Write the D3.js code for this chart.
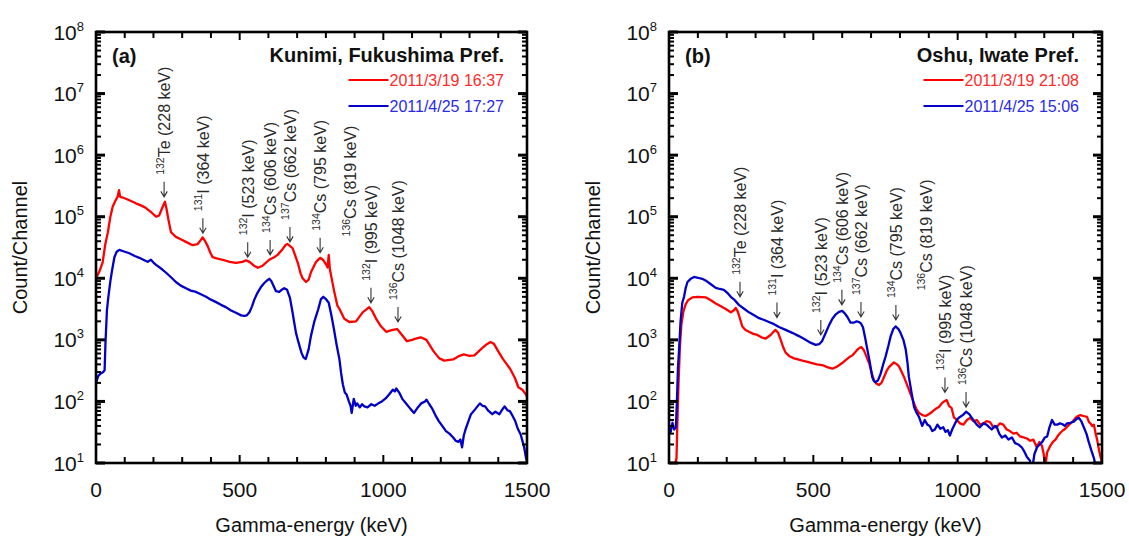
<!DOCTYPE html>
<html>
<head>
<meta charset="utf-8">
<script src="https://cdn.jsdelivr.net/npm/d3@7"></script>
<style>
  body { margin: 0; background: #fff; }
  text { font-family: "Liberation Sans", Arial, sans-serif; }
</style>
</head>
<body>
<svg id="chart" width="1129" height="536"></svg>
<script>
// Gamma spectra, values: [energy keV, count/channel]
const kunimiMar = [
  [0, 1.0e4], [12, 1.3e4], [23, 1.8e4], [32, 3.5e4], [41, 5.5e4], [50, 1.0e5], [58, 1.45e5],
  [67, 1.8e5], [75, 2.1e5], [80, 2.7e5], [84, 2.1e5], [93, 2.05e5], [110, 1.9e5], [139, 1.65e5],
  [160, 1.5e5], [174, 1.38e5], [195, 1.15e5], [209, 1.0e5], [220, 1.05e5], [232, 1.45e5],
  [240, 1.75e5], [246, 1.3e5], [252, 9.0e4], [261, 5.6e4], [278, 4.7e4], [295, 4.3e4],
  [313, 3.9e4], [336, 3.45e4], [354, 3.6e4], [365, 4.2e4], [371, 4.6e4], [380, 4.0e4],
  [389, 3.3e4], [398, 2.6e4], [406, 2.2e4], [420, 2.1e4], [441, 2.0e4], [465, 1.85e4],
  [487, 1.78e4], [510, 1.85e4], [522, 1.95e4], [534, 1.85e4], [550, 1.6e4], [563, 1.48e4],
  [580, 1.6e4], [603, 2.0e4], [620, 2.2e4], [632, 2.4e4], [650, 3.0e4], [660, 3.5e4],
  [667, 3.6e4], [684, 3.1e4], [702, 1.8e4], [712, 1.2e4], [719, 1.0e4], [731, 8.7e3],
  [740, 9.5e3], [748, 1.25e4], [766, 1.85e4], [780, 2.15e4], [790, 2.0e4], [800, 1.7e4],
  [806, 1.5e4], [810, 2.4e4], [814, 1.4e4], [822, 9.0e3], [830, 5.8e3], [840, 3.6e3],
  [847, 3.2e3], [864, 2.2e3], [882, 1.95e3], [905, 2.0e3], [928, 2.8e3], [940, 3.1e3],
  [951, 3.4e3], [962, 2.9e3], [975, 2.2e3], [990, 1.7e3], [1010, 1.35e3], [1032, 1.45e3],
  [1048, 1.5e3], [1065, 1.2e3], [1082, 9.5e2], [1100, 1.0e3], [1113, 1.05e3], [1130, 1.1e3],
  [1150, 1.0e3], [1175, 6.5e2], [1195, 5.0e2], [1212, 4.6e2], [1243, 4.8e2], [1265, 5.5e2],
  [1280, 5.8e2], [1300, 5.5e2], [1317, 5.6e2], [1342, 7.2e2], [1360, 8.5e2], [1373, 9.2e2],
  [1385, 8.6e2], [1400, 6.5e2], [1416, 4.9e2], [1441, 3.4e2], [1458, 2.4e2], [1470, 1.7e2],
  [1484, 1.55e2], [1496, 1.3e2], [1500, 1.2e2]
];

const kunimiApr = [
  [0, 2.0e2], [8, 2.6e2], [15, 2.8e2], [25, 3.0e2], [30, 3.2e2], [33, 9.0e2], [38, 3.0e3],
  [43, 5.0e3], [50, 9.0e3], [56, 1.35e4], [64, 2.2e4], [72, 2.7e4], [81, 2.9e4], [95, 2.75e4],
  [116, 2.55e4], [135, 2.3e4], [151, 2.15e4], [170, 1.95e4], [180, 1.85e4], [191, 2.0e4],
  [200, 1.8e4], [209, 1.65e4], [230, 1.4e4], [244, 1.23e4], [260, 1.05e4], [278, 8.7e3],
  [295, 7.6e3], [313, 6.9e3], [330, 6.3e3], [348, 6.0e3], [365, 5.5e3], [383, 5.0e3],
  [400, 4.5e3], [418, 4.1e3], [435, 3.7e3], [452, 3.4e3], [470, 3.0e3], [487, 2.75e3],
  [505, 2.5e3], [516, 2.45e3], [525, 2.5e3], [534, 2.8e3], [543, 3.5e3], [551, 4.5e3],
  [562, 5.8e3], [574, 7.2e3], [585, 8.3e3], [595, 9.2e3], [603, 9.8e3], [610, 9.0e3],
  [618, 7.5e3], [626, 6.2e3], [638, 6.0e3], [648, 6.6e3], [655, 6.9e3], [665, 6.5e3],
  [675, 4.8e3], [684, 2.8e3], [690, 1.9e3], [696, 1.3e3], [705, 9.0e2], [715, 6.2e2],
  [722, 5.2e2], [730, 4.9e2], [740, 7.0e2], [748, 1.15e3], [760, 2.0e3], [773, 3.1e3],
  [783, 4.6e3], [791, 5.0e3], [800, 4.6e3], [810, 4.0e3], [820, 2.4e3], [828, 1.5e3],
  [838, 8.0e2], [847, 4.9e2], [853, 2.9e2], [859, 1.9e2], [866, 1.4e2], [872, 1.3e2],
  [880, 1.0e2], [886, 8.5e1], [890, 6.5e1], [897, 1.1e2], [904, 8.5e1], [909, 9.3e1],
  [918, 8.0e1], [926, 9.0e1], [934, 8.3e1], [945, 8.0e1], [958, 9.0e1], [970, 8.5e1],
  [983, 9.3e1], [995, 1.0e2], [1008, 1.12e2], [1020, 1.3e2], [1033, 1.55e2], [1040, 1.45e2],
  [1045, 1.62e2], [1057, 1.35e2], [1066, 1.1e2], [1082, 8.9e1], [1095, 7.5e1], [1107, 6.5e1],
  [1120, 8.0e1], [1132, 9.3e1], [1145, 1.0e2], [1150, 1.07e2], [1160, 9.0e1], [1169, 7.8e1],
  [1181, 6.0e1], [1193, 4.8e1], [1205, 4.0e1], [1218, 3.3e1], [1230, 3.0e1], [1243, 2.6e1],
  [1252, 2.3e1], [1261, 2.2e1], [1268, 2.4e1], [1274, 1.8e1], [1280, 2.8e1], [1286, 3.5e1],
  [1295, 4.6e1], [1305, 6.2e1], [1320, 7.5e1], [1336, 9.3e1], [1345, 8.5e1], [1354, 8.3e1],
  [1366, 7.0e1], [1379, 6.2e1], [1390, 6.8e1], [1404, 6.2e1], [1415, 7.5e1], [1422, 8.3e1],
  [1432, 7.2e1], [1441, 6.9e1], [1450, 5.8e1], [1459, 4.8e1], [1468, 3.6e1], [1478, 2.9e1],
  [1485, 2.2e1], [1490, 1.8e1], [1496, 1.25e1], [1500, 1.05e1]
];

const oshuMar = [
  [0, 9], [20, 9], [26, 1.2e1], [29, 4.5e1], [33, 2.0e2], [38, 8.0e2], [43, 1.8e3], [50, 2.9e3],
  [58, 3.8e3], [66, 4.4e3], [81, 4.9e3], [100, 5.0e3], [127, 4.9e3], [145, 4.4e3], [162, 3.9e3],
  [180, 3.5e3], [195, 3.2e3], [214, 2.8e3], [224, 3.0e3], [231, 3.3e3], [238, 2.9e3],
  [246, 2.2e3], [254, 1.65e3], [265, 1.45e3], [277, 1.35e3], [292, 1.25e3], [306, 1.2e3],
  [320, 1.1e3], [335, 1.05e3], [352, 1.2e3], [362, 1.35e3], [369, 1.45e3], [378, 1.3e3],
  [387, 1.0e3], [396, 7.5e2], [404, 6.2e2], [418, 5.4e2], [433, 5.0e2], [447, 4.8e2],
  [462, 4.6e2], [480, 4.4e2], [496, 4.2e2], [512, 4.0e2], [531, 3.9e2], [548, 3.6e2],
  [566, 3.4e2], [583, 3.7e2], [600, 4.2e2], [612, 4.7e2], [624, 5.2e2], [635, 5.6e2],
  [645, 6.3e2], [652, 6.9e2], [660, 7.4e2], [667, 7.6e2], [675, 6.8e2], [681, 5.8e2],
  [693, 4.2e2], [702, 2.9e2], [710, 2.2e2], [718, 1.95e2], [727, 1.85e2], [736, 2.0e2],
  [745, 2.5e2], [755, 3.2e2], [762, 3.6e2], [772, 4.0e2], [779, 4.3e2], [790, 4.0e2],
  [797, 3.7e2], [806, 3.0e2], [814, 2.5e2], [822, 2.0e2], [831, 1.55e2], [840, 1.2e2],
  [849, 9.3e1], [857, 7.5e1], [866, 6.5e1], [878, 6.0e1], [889, 5.8e1], [900, 6.2e1],
  [912, 6.8e1], [924, 7.6e1], [935, 8.1e1], [945, 9.3e1], [953, 1.0e2], [962, 1.05e2],
  [970, 8.5e1], [979, 7.8e1], [987, 5.5e1], [997, 5.0e1], [1008, 4.4e1], [1020, 4.2e1],
  [1032, 5.0e1], [1043, 5.4e1], [1055, 4.8e1], [1066, 5.0e1], [1078, 4.2e1], [1089, 4.4e1],
  [1100, 4.8e1], [1112, 4.6e1], [1124, 3.8e1], [1135, 3.8e1], [1146, 4.4e1], [1158, 4.2e1],
  [1170, 3.5e1], [1181, 3.3e1], [1193, 3.0e1], [1204, 3.1e1], [1216, 2.7e1], [1228, 2.6e1],
  [1240, 2.5e1], [1251, 2.3e1], [1262, 2.4e1], [1274, 1.8e1], [1283, 2.2e1], [1292, 1.9e1],
  [1298, 1.4e1], [1304, 9], [1310, 1.5e1], [1321, 1.9e1], [1330, 2.2e1], [1339, 2.4e1],
  [1348, 2.8e1], [1356, 3.1e1], [1365, 3.4e1], [1373, 3.6e1], [1382, 4.0e1], [1391, 4.4e1],
  [1400, 4.8e1], [1408, 5.4e1], [1417, 5.8e1], [1425, 6.0e1], [1436, 5.8e1], [1448, 5.6e1],
  [1455, 4.6e1], [1460, 4.4e1], [1466, 4.0e1], [1472, 4.2e1], [1478, 3.0e1], [1483, 2.4e1],
  [1490, 1.6e1], [1495, 1.25e1], [1500, 1.0e1]
];

const oshuApr = [
  [0, 4.0e1], [6, 3.2e1], [12, 4.5e1], [18, 3.5e1], [24, 3.8e1], [28, 1.2e2], [31, 3.5e2],
  [35, 7.0e2], [40, 2.0e3], [46, 4.0e3], [52, 5.0e3], [58, 7.0e3], [64, 8.7e3], [75, 9.8e3],
  [87, 1.05e4], [100, 1.02e4], [115, 9.8e3], [130, 9.0e3], [145, 8.0e3], [162, 7.0e3],
  [176, 6.7e3], [190, 6.5e3], [202, 5.8e3], [214, 5.0e3], [228, 4.4e3], [242, 3.7e3],
  [260, 3.2e3], [277, 2.8e3], [295, 2.5e3], [312, 2.25e3], [330, 2.1e3], [346, 1.95e3],
  [364, 1.8e3], [381, 1.62e3], [404, 1.45e3], [427, 1.3e3], [450, 1.15e3], [473, 1.0e3],
  [490, 9.0e2], [508, 8.3e2], [520, 8.5e2], [530, 9.5e2], [543, 1.3e3], [555, 1.75e3],
  [566, 2.2e3], [578, 2.6e3], [589, 2.85e3], [600, 2.95e3], [609, 2.7e3], [618, 2.35e3],
  [629, 1.9e3], [640, 1.9e3], [650, 2.0e3], [658, 1.95e3], [665, 1.85e3], [672, 1.6e3],
  [680, 1.05e3], [687, 7.0e2], [695, 4.5e2], [704, 2.5e2], [710, 2.15e2], [716, 2.05e2],
  [724, 2.2e2], [733, 2.8e2], [742, 4.0e2], [750, 5.3e2], [760, 8.0e2], [768, 1.15e3],
  [777, 1.5e3], [785, 1.65e3], [795, 1.5e3], [802, 1.3e3], [812, 1.0e3], [820, 7.0e2],
  [826, 4.3e2], [831, 2.5e2], [840, 1.4e2], [849, 8.1e1], [858, 6.5e1], [866, 5.6e1],
  [877, 4.0e1], [886, 5.0e1], [895, 4.2e1], [903, 4.0e1], [912, 3.3e1], [921, 3.5e1],
  [930, 4.2e1], [940, 3.6e1], [950, 3.8e1], [958, 3.2e1], [966, 3.4e1], [973, 2.8e1],
  [982, 3.6e1], [991, 4.4e1], [1000, 5.2e1], [1008, 5.6e1], [1018, 6.0e1], [1029, 6.8e1],
  [1040, 6.2e1], [1054, 5.0e1], [1066, 4.2e1], [1077, 3.8e1], [1089, 4.4e1], [1100, 4.2e1],
  [1110, 3.8e1], [1118, 3.5e1], [1128, 4.0e1], [1135, 3.9e1], [1144, 3.0e1], [1153, 2.6e1],
  [1165, 2.8e1], [1176, 2.4e1], [1188, 2.6e1], [1199, 2.1e1], [1210, 2.0e1], [1222, 1.8e1],
  [1232, 1.5e1], [1240, 1.25e1], [1250, 1.1e1], [1258, 8], [1266, 1.4e1], [1275, 1.8e1],
  [1284, 2.0e1], [1293, 2.2e1], [1302, 2.6e1], [1310, 2.7e1], [1318, 3.8e1], [1327, 5.0e1],
  [1336, 4.2e1], [1345, 4.2e1], [1354, 4.4e1], [1362, 4.3e1], [1371, 4.0e1], [1379, 4.4e1],
  [1390, 4.5e1], [1402, 4.7e1], [1412, 5.2e1], [1420, 5.4e1], [1428, 4.8e1], [1437, 3.8e1],
  [1446, 3.0e1], [1454, 2.2e1], [1463, 1.6e1], [1472, 1.2e1], [1478, 9]
];

// Peak labels: [isotope mass, rest of label]
const peakLabels = [
  ['132', 'Te (228 keV)'], ['131', 'I (364 keV)'], ['132', 'I (523 keV)'],
  ['134', 'Cs (606 keV)'], ['137', 'Cs (662 keV)'], ['134', 'Cs (795 keV)'],
  ['136', 'Cs (819 keV)'], ['132', 'I (995 keV)'], ['136', 'Cs (1048 keV)']
];
const peakHasArrow = [true, true, true, true, true, true, false, true, true];
// arrow position [energy, count at the arrow tip]
const kunimiPeaks = [[237, 2.1e5], [372, 5.4e4], [528, 2.2e4], [606, 2.4e4], [675, 3.9e4],
  [780, 2.6e4], [885, 2.1e4], [957, 4.0e3], [1051, 1.95e3]];
const oshuPeaks = [[246, 5.0e3], [374, 2.3e3], [526, 1.2e3], [599, 3.7e3], [665, 2.35e3],
  [786, 2.1e3], [890, 2.8e3], [956, 1.4e2], [1029, 8.1e1]];

const xTickLabels = [0, 500, 1000, 1500];
const yDecades = [1, 2, 3, 4, 5, 6, 7, 8];

const RED = '#ff0000', BLUE = '#0000c8';
const RED_TXT = '#ff2a2a', BLUE_TXT = '#2a2ae6';

const svg = d3.select('#chart');
const plotTop = 32, plotBottom = 463;

function drawPanel(opts) {
  const { left, right, tag, site, dates, red, blue, peaks, id } = opts;
  const g = svg.append('g');

  const x = d3.scaleLinear().domain([0, 1500]).range([left, right]);
  const y = d3.scaleLog().domain([10, 1e8]).range([plotBottom, plotTop]);

  g.append('clipPath').attr('id', 'clip' + id)
    .append('rect').attr('x', left).attr('y', plotTop)
    .attr('width', right - left).attr('height', plotBottom - plotTop);

  const line = d3.line()
    .x(d => x(d[0]))
    .y(d => y(Math.max(d[1], 5)));

  const curves = g.append('g').attr('clip-path', `url(#clip${id})`);
  [[red, RED], [blue, BLUE]].forEach(([data, col]) => {
    curves.append('path')
      .attr('d', line(data))
      .attr('fill', 'none')
      .attr('stroke', col)
      .attr('stroke-width', 2.3)
      .attr('stroke-linejoin', 'round');
  });

  // X ticks (inward, bottom and top)
  const xt = d3.range(0, 1501, 100);
  const ticks = g.append('g').attr('stroke', '#000').attr('stroke-width', 2);
  xt.forEach(v => {
    const len = v % 500 === 0 ? 8 : 6;
    ticks.append('line').attr('x1', x(v)).attr('x2', x(v)).attr('y1', plotBottom).attr('y2', plotBottom - len);
    ticks.append('line').attr('x1', x(v)).attr('x2', x(v)).attr('y1', plotTop).attr('y2', plotTop + len);
  });

  // Y ticks (inward, left and right)
  y.ticks().forEach(v => {
    const major = Math.abs(Math.log10(v) - Math.round(Math.log10(v))) < 1e-9;
    const len = major ? 9 : 5;
    const w = major ? 3 : 2;
    ticks.append('line').attr('x1', left).attr('x2', left + len).attr('y1', y(v)).attr('y2', y(v)).attr('stroke-width', w);
    ticks.append('line').attr('x1', right).attr('x2', right - len).attr('y1', y(v)).attr('y2', y(v)).attr('stroke-width', w);
  });

  // frame
  g.append('rect')
    .attr('x', left).attr('y', plotTop)
    .attr('width', right - left).attr('height', plotBottom - plotTop)
    .attr('fill', 'none').attr('stroke', '#000').attr('stroke-width', 2.6);

  // X tick labels
  g.append('g').selectAll('text')
    .data(xTickLabels)
    .join('text')
    .attr('x', d => x(d))
    .attr('y', 497)
    .attr('text-anchor', 'middle')
    .attr('font-size', 21)
    .attr('fill', '#111')
    .text(d => d);

  // Y tick labels 10^n
  const yl = g.append('g').selectAll('text')
    .data(yDecades)
    .join('text')
    .attr('x', left - 12)
    .attr('y', d => y(Math.pow(10, d)) + 7.5)
    .attr('text-anchor', 'end')
    .attr('fill', '#111');
  yl.append('tspan').attr('font-size', 21).text('10');
  yl.append('tspan').attr('font-size', 13).attr('dy', -9).text(d => d);

  // axis titles
  g.append('text')
    .attr('x', (left + right) / 2).attr('y', 532)
    .attr('text-anchor', 'middle').attr('font-size', 20).attr('fill', '#111')
    .text('Gamma-energy (keV)');
  g.append('text')
    .attr('transform', `translate(${left - 69},${(plotTop + plotBottom) / 2}) rotate(-90)`)
    .attr('text-anchor', 'middle').attr('font-size', 20).attr('fill', '#111')
    .text('Count/Channel');

  // panel tag and site
  g.append('text')
    .attr('x', left + 16).attr('y', 63)
    .attr('font-size', 20).attr('font-weight', 'bold').attr('fill', '#111')
    .text(tag);
  g.append('text')
    .attr('x', right - 23).attr('y', 62)
    .attr('text-anchor', 'end')
    .attr('font-size', 20).attr('font-weight', 'bold').attr('fill', '#111')
    .text(site);

  // legend
  [[dates[0], RED, RED_TXT, 80], [dates[1], BLUE, BLUE_TXT, 106]].forEach(([label, col, tcol, ly]) => {
    const t = g.append('text')
      .attr('x', right - 23).attr('y', ly + 6)
      .attr('text-anchor', 'end')
      .attr('font-size', 16).attr('fill', tcol)
      .text(label);
    const tw = t.node().getComputedTextLength();
    const x1 = right - 23 - tw - 1;
    g.append('line')
      .attr('x1', x1 - 40).attr('x2', x1)
      .attr('y1', ly).attr('y2', ly)
      .attr('stroke', col).attr('stroke-width', 2);
  });

  // peak annotations
  const ann = g.append('g');
  peaks.forEach((p, i) => {
    const ax = x(p[0]);
    const tip = y(p[1]);
    const arrowTop = tip - 15;
    if (peakHasArrow[i]) {
      ann.append('path')
        .attr('d', `M${ax},${arrowTop}L${ax},${tip}M${ax - 3.2},${tip - 5.5}L${ax},${tip}L${ax + 3.2},${tip - 5.5}`)
        .attr('fill', 'none').attr('stroke', '#333').attr('stroke-width', 1.1);
    }
    const t = ann.append('text')
      .attr('transform', `translate(${ax + 6},${arrowTop - 7}) rotate(-90)`)
      .attr('fill', '#2a2a2a');
    t.append('tspan').attr('font-size', 10.5).attr('dy', -6.5).text(peakLabels[i][0]);
    t.append('tspan').attr('font-size', 16).attr('dy', 6.5).text(peakLabels[i][1]);
  });
}

drawPanel({
  id: 'a', left: 96, right: 527, tag: '(a)', site: 'Kunimi, Fukushima Pref.',
  dates: ['2011/3/19 16:37', '2011/4/25 17:27'],
  red: kunimiMar, blue: kunimiApr, peaks: kunimiPeaks
});
drawPanel({
  id: 'b', left: 669, right: 1102, tag: '(b)', site: 'Oshu, Iwate Pref.',
  dates: ['2011/3/19 21:08', '2011/4/25 15:06'],
  red: oshuMar, blue: oshuApr, peaks: oshuPeaks
});
</script>
</body>
</html>
